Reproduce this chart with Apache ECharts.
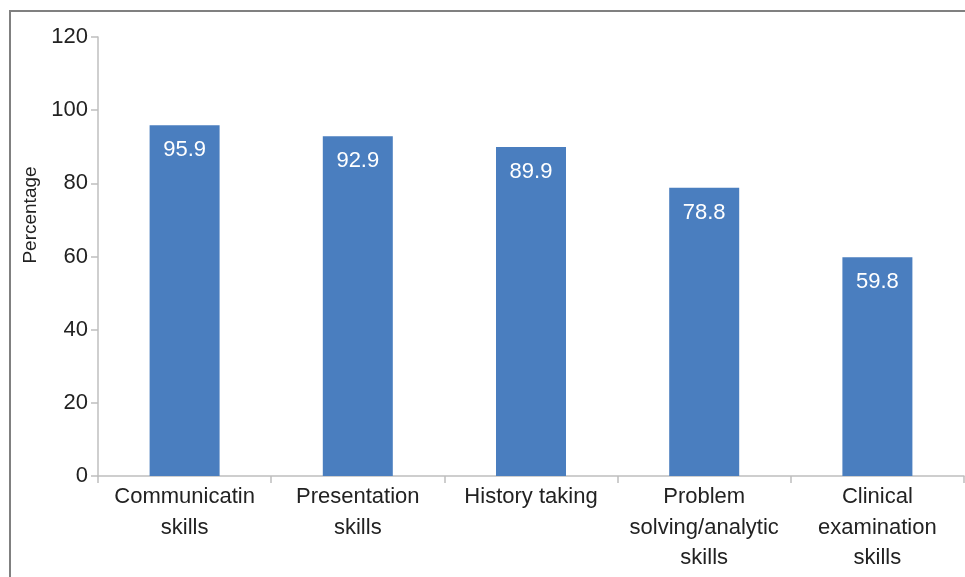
<!DOCTYPE html>
<html><head><meta charset="utf-8">
<script src="https://cdn.jsdelivr.net/npm/echarts@6/dist/echarts.min.js"></script>
<style>
html,body{margin:0;padding:0;background:#fff;}
#frame{position:absolute;left:9px;top:10px;width:1000px;height:600px;border:2px solid #808080;box-sizing:border-box;}
#c{position:absolute;left:0;top:0;width:965px;height:577px;}
</style></head>
<body>
<div id="frame"></div>
<div id="c"></div>
<script>
const categories = ['Communicatin\nskills', 'Presentation\nskills', 'History taking', 'Problem\nsolving/analytic\nskills', 'Clinical\nexamination\nskills'];
const values = [95.9, 92.9, 89.9, 78.8, 59.8];
const yTicks = [0, 20, 40, 60, 80, 100, 120];

const FONT = 'Liberation Sans, Arial, sans-serif';
const chart = echarts.init(document.getElementById('c'));
chart.setOption({
  animation: false,
  backgroundColor: 'transparent',
  grid: {left: 98, right: 1, top: 37, bottom: 101, containLabel: false},
  xAxis: {
    type: 'category',
    data: categories,
    axisLine: {lineStyle: {color: '#bfbfbf', width: 1.5}},
    axisTick: {show: true, alignWithLabel: false, length: 7, lineStyle: {color: '#bfbfbf', width: 1.5}},
    axisLabel: {color: '#222', fontSize: 22, fontFamily: FONT, lineHeight: 30.5, margin: 6, interval: 0}
  },
  yAxis: {
    type: 'value',
    min: yTicks[0], max: yTicks[yTicks.length - 1], interval: 20,
    splitLine: {show: false},
    axisLine: {show: true, lineStyle: {color: '#bfbfbf', width: 1.5}},
    axisTick: {show: true, length: 7, lineStyle: {color: '#bfbfbf', width: 1.5}},
    axisLabel: {color: '#222', fontSize: 22, fontFamily: FONT, margin: 10}
  },
  graphic: [{
    type: 'text', rotation: Math.PI / 2,
    position: [31, 215],
    style: {text: 'Percentage', fill: '#222', font: '19px ' + FONT, textAlign: 'center', textVerticalAlign: 'middle', x: 0, y: 0}
  }],
  series: [{
    type: 'bar',
    data: values,
    barWidth: 70,
    itemStyle: {color: '#4a7ebf'},
    label: {show: true, position: 'insideTop', distance: 14, color: '#fff', fontSize: 22, fontFamily: FONT}
  }]
});
</script>
</body></html>
